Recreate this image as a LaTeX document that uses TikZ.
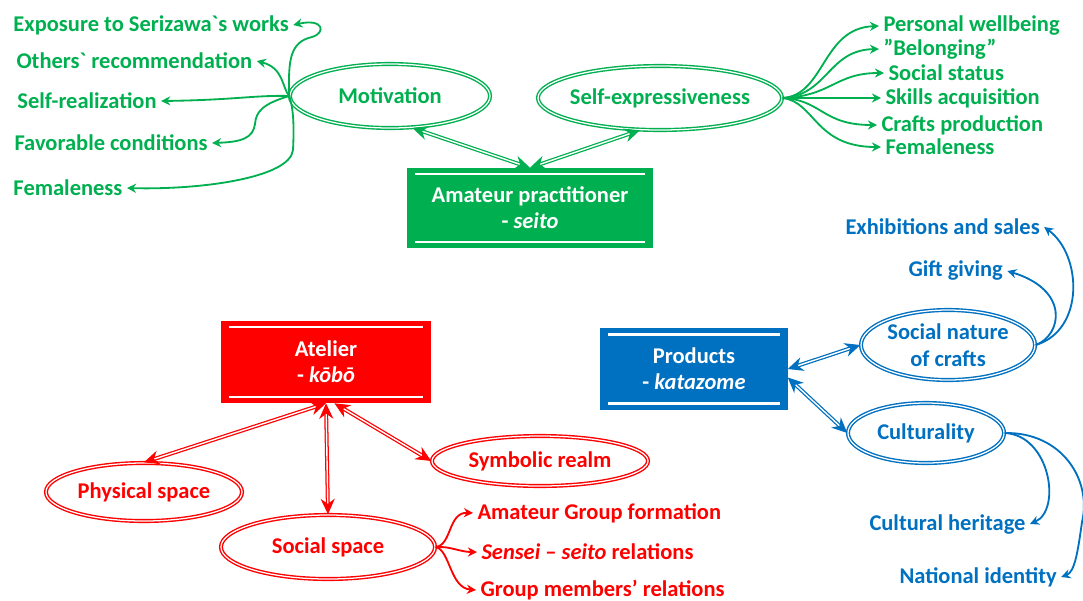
\documentclass[tikz,border=0pt]{standalone}
\usepackage{fontspec}
\newfontfamily\calfont{Carlito}
\usetikzlibrary{shapes.geometric,arrows.meta}
\definecolor{leafGreen}{RGB}{0,176,80}
\definecolor{signalRed}{RGB}{255,0,0}
\definecolor{officeBlue}{RGB}{0,112,192}

\begin{document}
\begin{tikzpicture}[x=0.025cm,y=-0.025cm,
  lbl/.style={text=#1,anchor=west,inner sep=3pt,font=\calfont\bfseries\fontsize{16}{19}\selectfont},
  oval/.style={ellipse,draw=#1,double=white,double distance=0.9pt,line width=1pt,text=#1,inner sep=-3pt,align=center,font=\calfont\bfseries\fontsize{16}{19}\selectfont},
  hubbox/.style={rectangle,fill=#1,draw=#1,line width=1pt,text=white,align=center,font=\calfont\bfseries\fontsize{16}{18.5}\selectfont,
    path picture={\draw[white,line width=1.8pt]
      ([shift={(5pt,-4pt)}]path picture bounding box.north west) -- ([shift={(-5pt,-4pt)}]path picture bounding box.north east)
      ([shift={(5pt,4pt)}]path picture bounding box.south west) -- ([shift={(-5pt,4pt)}]path picture bounding box.south east);}},
  link/.style={draw=#1,double=white,double distance=1pt,line width=0.9pt,
    {Stealth[length=11pt,width=10pt]}-{Stealth[length=11pt,width=10pt]}},
  branch/.style={draw=#1,line width=1.3pt,-{Stealth[length=6.5pt,width=6.5pt]}}]
\path[use as bounding box] (0,0) rectangle (1083,600);

% Amateur practitioner
\node[oval=leafGreen,minimum width=5cm,minimum height=1.6cm] (motiv) at (390,96) {Motivation};
\node[oval=leafGreen,minimum width=6.1cm,minimum height=1.6cm] (selfx) at (660,98) {Self-expressiveness};
\node[hubbox=leafGreen,minimum width=6.1cm,minimum height=1.98cm] (ap) at (530,208) {Amateur practitioner\\- \textit{seito}};

\node[lbl=leafGreen] (expo) at (9,25) {Exposure to Serizawa`s works};
\node[lbl=leafGreen] (others) at (12,61) {Others` recommendation};
\node[lbl=leafGreen] (selfreal) at (13,101) {Self-realization};
\node[lbl=leafGreen] (favor) at (10,143) {Favorable conditions};
\node[lbl=leafGreen] (femA) at (9,188) {Femaleness};

\node[lbl=leafGreen] (wellb) at (879,26) {Personal wellbeing};
\node[lbl=leafGreen] (belong) at (879,49) {”Belonging”};
\node[lbl=leafGreen] (status) at (884,73) {Social status};
\node[lbl=leafGreen] (skills) at (881,98) {Skills acquisition};
\node[lbl=leafGreen] (crafts) at (877,125) {Crafts production};
\node[lbl=leafGreen] (femB) at (881,147) {Femaleness};

\draw[link=leafGreen] (ap.north) -- (motiv.305);
\draw[link=leafGreen] (ap.north) -- (selfx.238);

\draw[branch=leafGreen] (motiv.west) .. controls (288,60) and (290,42) .. (312,37) .. controls (326,33) and (324,18) .. (expo.east);
\draw[branch=leafGreen] (motiv.west) .. controls (282,88) and (284,68) .. (others.east);
\draw[branch=leafGreen] (motiv.west) .. controls (255,95) and (235,100) .. (selfreal.east);
\draw[branch=leafGreen] (motiv.west) .. controls (262,104) and (256,112) .. (255,124) .. controls (253,138) and (242,142) .. (favor.east);
\draw[branch=leafGreen] (motiv.west) .. controls (294,110) and (294,130) .. (293,150) .. controls (290,178) and (200,190) .. (femA.east);

\draw[branch=leafGreen] (selfx.east) .. controls (825,95) and (822,28) .. (wellb.west);
\draw[branch=leafGreen] (selfx.east) .. controls (828,95) and (828,50) .. (belong.west);
\draw[branch=leafGreen] (selfx.east) .. controls (832,96) and (835,73) .. (status.west);
\draw[branch=leafGreen] (selfx.east) -- (skills.west);
\draw[branch=leafGreen] (selfx.east) .. controls (822,100) and (822,125) .. (crafts.west);
\draw[branch=leafGreen] (selfx.east) .. controls (815,102) and (815,147) .. (femB.west);

% Atelier
\node[hubbox=signalRed,minimum width=5.2cm,minimum height=2.03cm] (atel) at (326,362) {Atelier\\- \textit{kōbō}};
\node[oval=signalRed,minimum width=4.9cm,minimum height=1.45cm] (phys) at (144,492) {Physical space};
\node[oval=signalRed,minimum width=5.35cm,minimum height=1.6cm] (social) at (328,547) {Social space};
\node[oval=signalRed,minimum width=5.4cm,minimum height=1.25cm] (symb) at (540,461) {Symbolic realm};

\node[lbl=signalRed] (groupf) at (473,513) {Amateur Group formation};
\node[lbl=signalRed] (sensei) at (477,552) {\textit{Sensei} – \textit{seito} relations};
\node[lbl=signalRed] (members) at (476,590) {Group members’ relations};

\draw[link=signalRed] (atel.south) -- (phys.north);
\draw[link=signalRed] (atel.south) -- (social.north);
\draw[link=signalRed] ([xshift=6pt]atel.south) -- (symb.west);

\draw[branch=signalRed] (social.east) .. controls (452,545) and (448,512) .. (groupf.west);
\draw[branch=signalRed] (social.east) .. controls (450,546) and (460,552) .. (sensei.west);
\draw[branch=signalRed] (social.east) .. controls (450,550) and (450,588) .. (members.west);

% Products
\node[hubbox=officeBlue,minimum width=4.65cm,minimum height=2.0cm] (prod) at (694,369) {Products\\- \textit{katazome}};
\node[oval=officeBlue,minimum width=4.35cm,minimum height=1.75cm] (nature) at (948,345) {Social nature\\of crafts};
\node[oval=officeBlue,minimum width=3.9cm,minimum height=1.5cm] (cultur) at (926,433) {Culturality};

\node[lbl=officeBlue] (exhib) at (841,227) {Exhibitions and sales};
\node[lbl=officeBlue] (gift) at (904,271) {Gift giving};
\node[lbl=officeBlue] (heritage) at (865,524) {Cultural heritage};
\node[lbl=officeBlue] (nation) at (895,577) {National identity};

\draw[link=officeBlue] (prod.east) -- (nature.west);
\draw[link=officeBlue] ([yshift=-6pt]prod.east) -- (cultur.west);

\draw[branch=officeBlue] (nature.east) .. controls (1085,330) and (1082,255) .. (exhib.east);
\draw[branch=officeBlue] (nature.east) .. controls (1062,335) and (1070,290) .. (gift.east);
\draw[branch=officeBlue] (cultur.east) .. controls (1050,435) and (1062,510) .. (heritage.east);
\draw[branch=officeBlue] (cultur.east) .. controls (1062,432) and (1092,480) .. (1082,522) .. controls (1078,550) and (1075,572) .. (nation.east);
\end{tikzpicture}
\end{document}
